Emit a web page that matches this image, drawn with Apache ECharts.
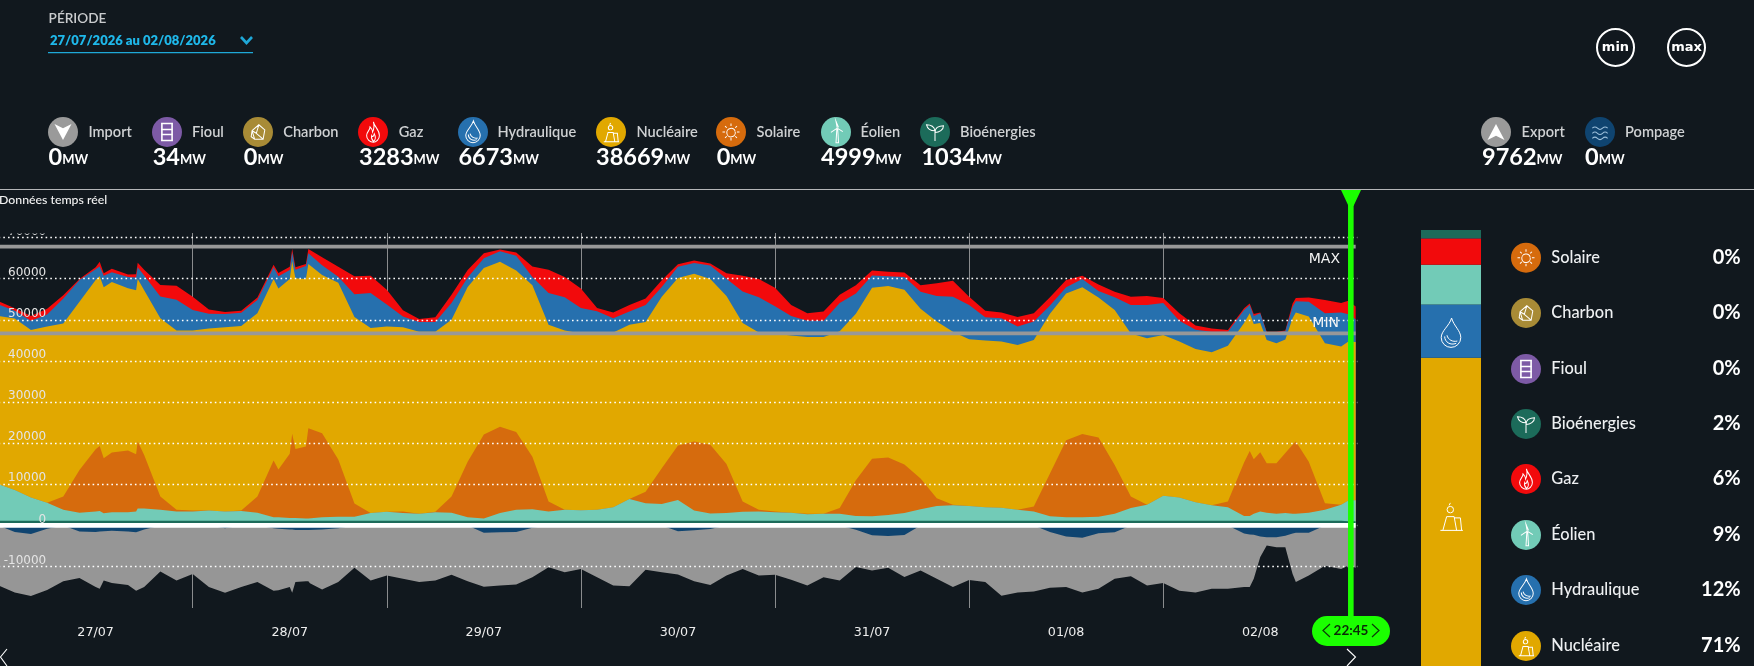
<!DOCTYPE html>
<html><head><meta charset="utf-8">
<style>html,body{margin:0;padding:0;background:#11181e;overflow:hidden}#c{width:1756px;height:666px;margin-left:-2px}</style>
<script src="https://cdn.jsdelivr.net/npm/echarts@6/dist/echarts.min.js"></script>
</head><body><div id="c"></div>
<script>
const hours=[0,2,4,6,8,10,12,12.5,13,14,16,17,17.2,18,
20,22,24,26,28,30,32,
34,34.2,34.6,36,36.3,36.7,38,38.3,38.5,40,
42,44,46,48,50,52,54,56,58,
60,62,64,66,68,70,72,74,76,78,80,82,
84,86,88,90,92,94,96,98,100,102,104,106,108,110,112,114,116,118,
120,122,124,126,128,130,132,134,136,138,140,142,144,146,148,150,152,
154,154.7,155.2,156,156.8,158,159.1,160,160.4,162,164,166,166.9,167.8];
const gaz=[800,600,1100,1400,800,200,500,1100,650,800,650,800,1100,1400,
2800,3400,3200,1000,500,500,650,
600,500,800,800,800,600,500,1000,1000,1900,
2400,4400,4200,3600,1500,700,1100,2000,1800,
1200,400,800,2600,5700,4900,4700,800,1400,1600,1600,1600,
600,650,500,1300,3800,4400,4500,2700,1800,2200,2000,2000,1200,1100,1100,1600,3100,3900,
2000,1600,1400,2300,2000,2000,1800,800,1600,1300,2000,2200,1200,1800,1000,800,400,
400,400,500,200,200,200,200,800,800,1000,3200,2300,3283,3100];
const hydraulique=[2800,1900,2300,2900,6100,5300,2600,2400,2750,2400,2700,3100,2900,3600,
5300,7500,5000,3600,3200,3200,3200,
2900,3000,3000,2200,2200,2100,3200,2600,2700,2400,
1500,5500,8500,5300,2600,2400,2400,4100,2300,
2400,2600,3600,2000,7700,8100,6200,5800,3500,3200,4100,2400,
2700,2600,3300,4200,7700,8600,6700,4700,4000,4000,6900,4900,3000,2400,3100,4100,6200,8500,
8300,5600,5700,4500,4500,2000,1500,2000,1600,3100,6900,8100,7800,5100,4700,5000,3400,
3200,2000,1900,2400,1800,2600,2000,2800,2700,3600,7300,8300,6673,5500];
const nucleaire=[40900,41700,40700,42900,42100,40900,41200,41300,41600,41500,39500,39900,39500,40100,
43400,43600,43800,44300,44800,44900,44600,
44100,44200,44000,42500,42000,41500,40700,40000,39500,38500,
43000,45400,45000,45100,44800,44300,43800,43000,42500,
40500,40100,39300,41700,43000,43600,43000,42500,42500,42400,41300,41700,
40800,40800,40300,40900,43400,43100,43200,43100,43000,43000,43000,40500,41600,41700,42500,41300,43000,42100,
40600,40600,40400,40100,40500,38900,35700,35700,34000,37700,39700,40500,39100,37900,37300,37200,37900,
33900,33500,32900,31400,30000,29200,27600,30800,31400,35300,38900,38500,38669,38500];
const solaire=[0,0,0,0,3200,10400,15100,15800,13400,14500,15000,13900,16300,13000,
3200,400,200,0,0,100,3900,
13800,13900,11600,15600,20500,16800,17500,21900,22100,20400,
13900,3200,0,0,400,0,100,3900,13500,
20400,21000,18900,12800,2400,0,0,0,0,0,2800,8700,
13200,16800,16700,11900,2500,400,200,0,100,0,1400,8700,14000,14000,11800,7500,1900,100,
0,0,0,0,1200,10400,18700,20200,19300,11900,2800,0,0,0,0,0,1400,
13000,15800,13300,14400,12000,12300,14600,16800,17600,12400,1600,0,0,0];
const eolien=[8900,7500,5700,4400,2700,2000,2300,2400,1850,2100,2100,2300,3000,3000,
2700,2300,2300,2500,2300,2400,2000,
900,900,900,700,700,700,600,600,600,900,
1000,1000,1900,2200,1900,1700,2100,2000,900,
600,1900,2700,2800,2300,2700,2600,2700,3300,5300,4300,4100,
5100,2500,1800,1900,2200,2300,2100,2000,1600,1700,1700,1200,1100,1400,1900,2800,3600,3800,
3600,3300,3200,2700,2300,1100,900,900,1000,1700,3100,3900,6100,5700,4500,3800,3300,
1200,1200,1700,2300,2000,1700,1900,1700,1700,2000,2700,3900,4999,5100];
const bioenergies=[1100,1100,1100,1100,1100,1100,1100,1100,1100,1100,1100,1100,1100,1100,
1100,1100,1100,1100,1100,1100,1100,
1100,1100,1100,1100,1100,1100,1100,1100,1100,1100,
1100,1100,1100,1100,1100,1100,1100,1100,1100,
1100,1100,1100,1100,1100,1100,1100,1100,1100,1100,1100,1100,
1100,1100,1100,1100,1100,1100,1100,1100,1100,1100,1100,1100,1100,1100,1100,1100,1100,1100,
1100,1100,1100,1100,1100,1100,1100,1100,1100,1100,1100,1100,1100,1100,1100,1100,1100,
1100,1100,1100,1100,1100,1100,1100,1100,1100,1100,1100,1100,1034,1034];
const exportMW=[14600,14700,15100,14900,13600,11300,13400,13900,12000,12700,13000,14200,14300,14000,
11200,13400,11800,15000,15700,15000,13800,
15200,15100,15000,14000,15400,12700,12500,12500,13000,14600,
13100,10300,13400,12200,13000,13800,13400,12000,13600,
13100,12900,12800,12000,10200,11400,10600,12600,14600,14800,10800,11400,
10500,12400,13600,12200,10600,12200,12000,13200,14600,12600,13400,9100,8600,7700,10200,11000,13000,15000,
13300,13800,17100,16300,16100,13600,12300,13300,13500,11300,12400,14600,14000,15900,16300,15400,15400,
13000,12800,10700,5000,2000,2400,2800,9800,12000,10400,9800,10600,9762,10300];
const pompage=[0,1600,2100,800,0,1500,1600,1500,1400,1300,1500,1700,1800,1000,
0,0,0,0,700,0,0,
700,800,800,1000,1000,1100,1100,1100,1100,1000,
700,0,0,0,0,0,0,0,0,
1800,1700,1600,600,0,0,0,0,0,0,0,0,
1450,1200,900,0,0,0,0,0,0,0,0,1050,2400,2600,2350,0,0,0,
0,0,0,0,0,1600,2700,3000,1900,1700,0,0,0,0,0,0,0,
2000,2200,2300,2700,2900,2900,2500,2000,1800,1800,0,0,0,0];
const dayLabels=['27/07','28/07','29/07','30/07','31/07','01/08','02/08'];
const maxLevel=67800, minLevel=46700, cursorHour=167.2, cursorLabel='22:45';
const headerNames=['Import','Fioul','Charbon','Gaz','Hydraulique','Nucléaire','Solaire','Éolien','Bioénergies','Export','Pompage'];
const headerValues=[0,34,0,3283,6673,38669,0,4999,1034,9762,0];
const legendNames=['Solaire','Charbon','Fioul','Bioénergies','Gaz','Éolien','Hydraulique','Nucléaire'];
const legendShares=['0%','0%','0%','2%','6%','9%','12%','71%'];
const barNames=['Nucléaire','Hydraulique','Éolien','Gaz','Fioul','Bioénergies'];
const barValues=[38669,6673,4999,3283,34,1034];

const C={Import:'#9a9a9a',Export:'#9a9a9a',Fioul:'#7d5aa6',Charbon:'#a88b36',Gaz:'#f20a0c',Hydraulique:'#2670ae',
'Nucléaire':'#e1a800',Solaire:'#d66b0d','Éolien':'#72cbb7','Bioénergies':'#1c6b5a',Pompage:'#0f4470'};
const BG='#11181e', F='Lato, "Noto Sans", sans-serif', GREEN='#1bff00';

const ICON={
Import:{d:'M0 0L10 5L20 0L10 19Z',w:20,h:19,fill:'#fff'},
Export:{d:'M0 19L10 14L20 19L10 0Z',w:20,h:19,fill:'#fff'},
Fioul:{d:'M2 0H16M2 20H16M3 0V20M15 0V20M2 7H16M2 13H16',w:18,h:20,lw:1.6},
Charbon:{d:'M2 8L10 1L17 7L15 18H5L1 15ZM2 8L5 18M10 1L7 11L15 18M7 11L2 8',w:18,h:19},
Gaz:{d:'M9 0C10 6 16 9 16 16C16 21 12 24 9 24C5 24 1 21 1 16C1 12 5 10 5 6C7 8 8 9 8 12C10 8 10 4 9 0ZM9 23C7 21 6 19 7 16C8 18 9 18 10 14C12 18 12 21 9 23Z',w:17,h:24},
Hydraulique:{d:'M9 0C11 7 17 11 17 17A8.5 8.5 0 0 1 0 17C0 11 7 7 9 0ZM3 16C3 21 8 24 13 22M5 15C6 19 10 21 14 20',w:17,h:26},
'Nucléaire':{d:'M1 23H19M3 23L6 12H12L14 23M12 13H17L18 23M9 9A2.6 2.6 0 1 0 8.9 9M9 1L8 3',w:19,h:23},
Solaire:{d:'M15 10A5 5 0 1 1 14.9 9.5M10 0V3M10 17V20M0 10H3M17 10H20M3 3L5 5M15 15L17 17M3 17L5 15M15 5L17 3',w:20,h:20},
'Éolien':{d:'M9 9L8 25H11L10 9M9.5 8L8 0L11 7M9.5 8L2 13M9.5 8L16 12',w:16,h:25},
'Bioénergies':{d:'M10 21V10M10 11C10 5 15 3 20 3C20 8 15 11 10 11M10 9C9 4 5 2 0 2C1 6 5 9 10 9',w:20,h:21},
Pompage:{d:'M0 3Q3 0 6 3T12 3T18 3M0 9Q3 6 6 9T12 9T18 9M0 15Q3 12 6 15T12 15T18 15',w:18,h:15,color:'#9dc0dc'}
};
Object.keys(ICON).forEach((n,i)=>{
  ICON[n].type='icon'+i;
  echarts.graphic.registerShape('icon'+i,echarts.graphic.extendPath(ICON[n].d,{}));
});
function iconEl(name,cx,cy,scale){
  const k=ICON[name],s=scale||1,w=k.w*s,h=k.h*s;
  return {type:k.type,z:110,x:cx-w/2,y:cy-h/2,scaleX:s,scaleY:s,
    style:{fill:k.fill||'none',stroke:k.fill?null:(k.color||'#fff'),lineWidth:(k.lw||1)/s}};
}
function disc(name,cx,cy){
  return [{type:'circle',z:105,shape:{cx,cy,r:15},style:{fill:C[name]}},iconEl(name,cx,cy,.85)];
}
function txt(text,x,y,font,fill,align,extra){
  return Object.assign({type:'text',z:110,x,y,style:{text,font,fill,align:align||'left',verticalAlign:'middle',textAlign:align||'left',textVerticalAlign:'middle'}},extra||{});
}
const headerX=[[63,88.4,48.6],[167,192,152.7],[258,283.2,243.8],[373,398.7,359],[473,497.5,458.4],[611,636.4,596],[731,756.5,716.7],[836,860.6,821],[935,960,921.4],[1496,1521.6,1482],[1600,1625,1585]];
const legendY=[257.7,313,369,424,479,535,590,646];

const chart=echarts.init(document.getElementById('c'));
// Each source is painted from zero up to the sum of itself and everything beneath it, back to front.
function area(name,parts,color,sign){
  return {name,type:'line',xAxisIndex:0,yAxisIndex:0,symbol:'none',z:2,
    lineStyle:{width:0},areaStyle:{color,opacity:1,origin:0},itemStyle:{color},
    data:hours.map((t,i)=>[t,(sign||1)*parts.reduce((a,p)=>a+p[i],0)])};
}
function hline(name,v,color,width){
  return {name,type:'line',xAxisIndex:0,yAxisIndex:0,symbol:'none',z:6,lineStyle:{color,width},
    data:[[hours[0],v],[hours[hours.length-1],v]]};
}
const barSeries=barNames.map((n,i)=>({name:n,type:'bar',stack:'share',xAxisIndex:2,yAxisIndex:2,barWidth:'100%',
  itemStyle:{color:C[n]},data:[barValues[i]]}));
const lower=[bioenergies];
const withWind=[bioenergies,eolien];
const withSun=[bioenergies,eolien,solaire];
const withNuc=[bioenergies,eolien,solaire,nucleaire];
const withHyd=[bioenergies,eolien,solaire,nucleaire,hydraulique];
const withGas=[bioenergies,eolien,solaire,nucleaire,hydraulique,gaz];
chart.setOption({
  animation:false,backgroundColor:BG,
  grid:[{left:0.6,top:237.6,width:1358.7,height:370},{left:0.6,top:233,width:1358.7,height:375},{left:1423,top:230,width:60,height:448}],
  xAxis:[
    {gridIndex:0,type:'value',min:0,max:168,interval:12,splitLine:{show:false},axisLine:{show:false},axisTick:{show:false},
      axisLabel:{show:true,margin:19,color:'#eee',fontFamily:'DejaVu Sans',fontSize:12.7,showMinLabel:false,showMaxLabel:false,
        formatter:v=>v%24===12?dayLabels[(v-12)/24]:''}},
    {gridIndex:1,type:'value',min:0,max:168,interval:24,axisLine:{show:false},axisTick:{show:false},axisLabel:{show:false},
      splitLine:{show:true,showMinLine:false,showMaxLine:false,lineStyle:{color:'#8a8c8e',width:1}}},
    {gridIndex:2,type:'category',data:['mix'],show:false}
  ],
  yAxis:[
    {gridIndex:0,type:'value',min:-20000,max:70000,interval:10000,z:4,axisLine:{show:false},axisTick:{show:false},
      splitLine:{show:true,showMinLine:false,lineStyle:{color:'#ffffff',width:1.4,type:[1.6,3.1]}},
      axisLabel:{show:true,inside:true,margin:47.6,align:'right',verticalAlign:'bottom',color:'#e4e4e4',fontFamily:'DejaVu Sans',fontSize:12,
        formatter:v=>v===-20000?'':String(v)}},
    {gridIndex:1,type:'value',min:0,max:1,show:false},
    {gridIndex:2,type:'value',min:0,max:barValues.reduce((a,b)=>a+b,0),show:false}
  ],
  series:[
    area('Gaz',withGas,C.Gaz),
    area('Hydraulique',withHyd,C.Hydraulique),
    area('Nucléaire',withNuc,C['Nucléaire']),
    area('Solaire',withSun,C.Solaire),
    area('Éolien',withWind,C['Éolien']),
    area('Bioénergies',lower,C['Bioénergies']),
    area('Export',[pompage,exportMW],'#969696',-1),
    area('Pompage',[pompage],C.Pompage,-1),
    hline('MAX',maxLevel,'#989898',3.6),
    hline('MIN',minLevel,'#989898',3.6),
    hline('Zéro',0,'#ffffff',4.6)
  ].concat(barSeries)
});

const cx=chart.convertToPixel({gridIndex:0},[cursorHour,0])[0]-2;
const els=[];
els.push({type:'rect',z:100,shape:{x:0,y:205,width:70,height:28.5},style:{fill:BG}});
els.push({type:'rect',z:100,shape:{x:-2,y:189,width:1756,height:1},style:{fill:'#b4b6b8'}});
els.push(txt('PÉRIODE',48.6,18.6,'600 13.6px '+F,'#c9cbcd'));
els.push(txt('27/07/2026 au 02/08/2026',50,41,'800 13px '+F,'#1fb8ea'));
els.push({type:'polyline',z:110,shape:{points:[[241,37],[246.5,43],[252,37]]},style:{stroke:'#1fa8d8',lineWidth:2.6,fill:'none'}});
els.push({type:'rect',z:110,shape:{x:48,y:52,width:205,height:1.2},style:{fill:'#1fa8d8'}});
[['min',1615.5],['max',1686.5]].forEach(([t,x])=>{
  els.push({type:'circle',z:110,shape:{cx:x,cy:47.5,r:18.5},style:{fill:'none',stroke:'#fff',lineWidth:2}});
  els.push(txt(t,x,47.5,'700 13px "DejaVu Sans"','#fff','center'));
});
headerNames.forEach((n,i)=>{
  const [c,l,v]=headerX[i];
  els.push(...disc(n,c,132));
  els.push(txt(n,l,132.5,'600 14.6px '+F,'#cfd1d3'));
  els.push({type:'text',z:110,x:v,y:157,style:{text:'{v|'+headerValues[i]+'}{u|MW}',verticalAlign:'middle',
    rich:{v:{font:'700 23.5px '+F,fill:'#fff',color:'#fff'},u:{font:'700 13px '+F,fill:'#fff',color:'#fff',padding:[5,0,0,0]}}}});
});
els.push(txt('Données temps réel',-1,200,'500 12.3px '+F,'#f2f2f2'));
els.push(txt('MAX',1340,259.5,'500 14px "DejaVu Sans"','#f4f4f4','right'));
els.push(txt('MIN',1339,323,'500 14px "DejaVu Sans"','#f4f4f4','right'));
els.push(iconEl('Hydraulique',1451,333,1.15));
els.push(iconEl('Nucléaire',1451,516,1.25));
legendNames.forEach((n,i)=>{
  els.push(...disc(n,1526,legendY[i]));
  els.push(txt(n,1551.3,legendY[i],'500 16.4px '+F,'#eef0f2'));
  els.push(txt(legendShares[i],1740.7,legendY[i],'700 20px '+F,'#fff','right'));
});
els.push({type:'polygon',z:120,shape:{points:[[1341,190],[1361,190],[1353.5,206],[1348.5,206]]},style:{fill:GREEN}});
els.push({type:'rect',z:120,shape:{x:cx-2.8,y:190,width:5.6,height:428},style:{fill:GREEN}});
els.push({type:'rect',z:120,shape:{x:1312,y:616,width:78,height:30,r:15},style:{fill:GREEN}});
els.push(txt(cursorLabel,1351,630.5,'700 13.5px '+F,'#0b2a08','center',{z:121}));
els.push({type:'polyline',z:121,shape:{points:[[1330,624],[1323,630.5],[1330,637]]},style:{stroke:'#0b3a08',lineWidth:1.2,fill:'none'}});
els.push({type:'polyline',z:121,shape:{points:[[1372,624],[1379,630.5],[1372,637]]},style:{stroke:'#0b3a08',lineWidth:1.2,fill:'none'}});
els.push({type:'polyline',z:110,shape:{points:[[7,649],[0.5,657],[7,666]]},style:{stroke:'#fff',lineWidth:1.1,fill:'none'}});
els.push({type:'polyline',z:110,shape:{points:[[1347,649],[1355.5,657],[1347,666]]},style:{stroke:'#fff',lineWidth:1.1,fill:'none'}});
chart.setOption({graphic:{elements:[{type:'group',x:2,y:0,children:els}]}});
</script></body></html>
